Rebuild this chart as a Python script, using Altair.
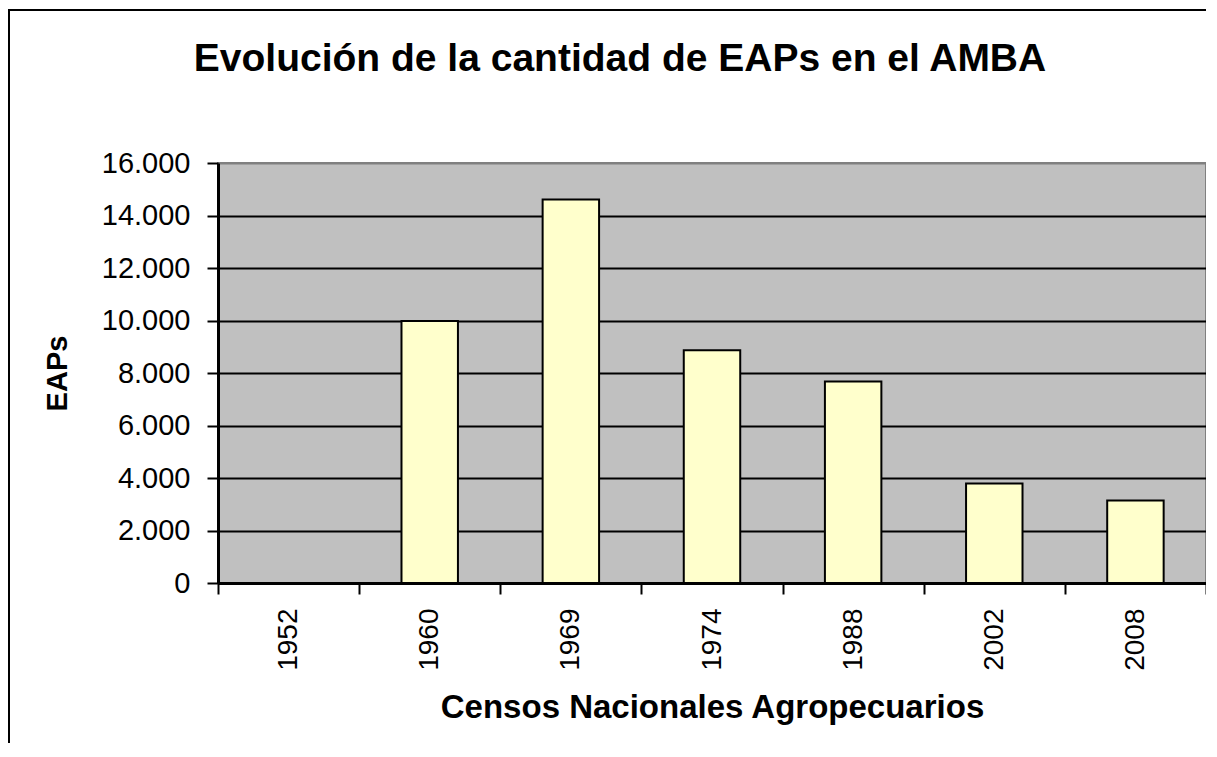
import altair as alt
import pandas as pd

years = ["1952", "1960", "1969", "1974", "1988", "2002", "2008"]
eaps = [None, 9980, 14610, 8870, 7680, 3790, 3140]
y_ticks = [0, 2000, 4000, 6000, 8000, 10000, 12000, 14000, 16000]

df = pd.DataFrame({"year": years, "eaps": eaps})

FONT = "Liberation Sans"
W, H = 988, 420

bars = alt.Chart(df).mark_bar(
    fill="#FFFFCC", stroke="#000000", strokeWidth=2,
    width=alt.RelativeBandSize(0.4)
).encode(
    x=alt.X("year:N", sort=years,
            scale=alt.Scale(domain=years, paddingInner=0, paddingOuter=0),
            axis=alt.Axis(title="Censos Nacionales Agropecuarios", labelAngle=-90,
                          tickBand="extent", labelFontSize=28, labelFont=FONT,
                          labelColor="#000000", labelPadding=14,
                          tickSize=11, tickWidth=2, tickColor="#000000",
                          domainColor="#000000", domainWidth=3,
                          titleFont=FONT, titleFontSize=33, titleFontWeight="bold",
                          titleColor="#000000", titleBaseline="top", titleY=108,
                          grid=False)),
    y=alt.Y("eaps:Q",
            scale=alt.Scale(domain=[0, 16000], nice=False, zero=True),
            axis=alt.Axis(title="EAPs", values=y_ticks,
                          labelExpr="replace(format(datum.value, ','), ',', '.')",
                          labelFontSize=29, labelFont=FONT, labelColor="#000000",
                          labelPadding=17, tickSize=11, tickWidth=2, tickColor="#000000",
                          domainColor="#000000", domainWidth=3,
                          grid=True, gridWidth=2,
                          gridColor={"condition": {"test": "datum.value === 16000",
                                                   "value": "#808080"},
                                     "value": "#000000"},
                          titleFont=FONT, titleFontSize=29, titleFontWeight="bold",
                          titleColor="#000000", titleX=-146))
)

frame = alt.Chart(df).mark_rect(
    fill=None, stroke="#000000", strokeWidth=2, clip=False
).encode(
    x=alt.value(-209), x2=alt.value(1020),
    y=alt.value(-153), y2=alt.value(640)
)

chart = alt.layer(frame, bars).properties(
    width=W, height=H,
    background="#FFFFFF",
    autosize=alt.AutoSizeParams(type="none"),
    padding={"left": 210, "top": 155, "right": 0, "bottom": 160},
    title=alt.TitleParams(
        text="Evolución de la cantidad de EAPs en el AMBA",
        font=FONT, fontSize=39, fontWeight="bold", color="#000000",
        anchor="middle", baseline="alphabetic", offset=0, dy=101, dx=-92
    )
).configure_view(
    fill="#C0C0C0", stroke="#808080", strokeWidth=2
)

chart.save("out.html", embed_options={"renderer": "svg", "actions": False})
